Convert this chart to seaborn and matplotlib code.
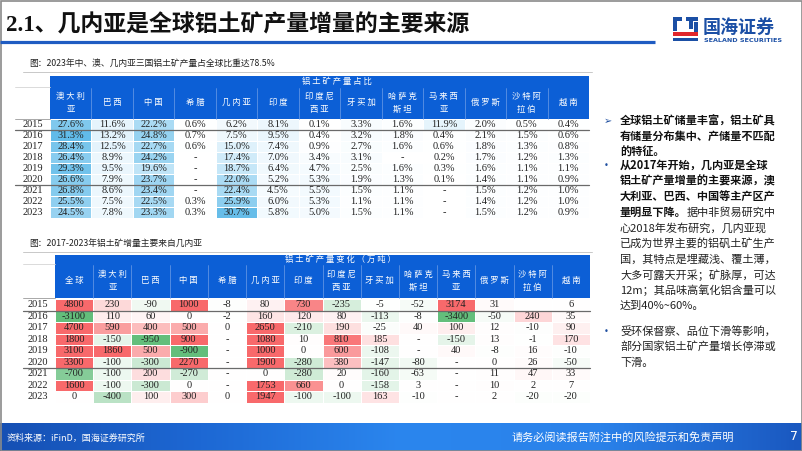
import numpy as np
import pandas as pd
import matplotlib
matplotlib.use("Agg")
import matplotlib.pyplot as plt
from matplotlib.colors import LinearSegmentedColormap
from matplotlib.patches import Rectangle
import seaborn as sns

sns.set_style("white")
plt.rcParams["font.family"] = ["Noto Sans CJK SC", "DejaVu Sans"]

# --- data: bauxite output share (%), None = "-" ---
years = ["2015", "2016", "2017", "2018", "2019", "2020", "2021", "2022", "2023"]
share_cols = ["澳大利\n亚", "巴西", "中国", "希腊", "几内亚", "印度", "印度尼\n西亚",
              "牙买加", "哈萨克\n斯坦", "马来西\n亚", "俄罗斯", "沙特阿\n拉伯", "越南"]
share_aus = [27.6, 31.3, 28.4, 26.4, 29.3, 26.6, 26.8, 25.5, 24.5]
share_bra = [11.6, 13.2, 12.5, 8.9, 9.5, 7.9, 8.6, 7.5, 7.8]
share_chn = [22.2, 24.8, 22.7, 24.2, 19.6, 23.7, 23.4, 22.5, 23.3]
share_grc = [0.6, 0.7, 0.6, None, None, None, None, 0.3, 0.3]
share_gin = [6.2, 7.5, 15.0, 17.4, 18.7, 22.0, 22.4, 25.9, 30.7]
share_ind = [8.1, 9.5, 7.4, 7.0, 6.4, 5.2, 4.5, 6.0, 5.8]
share_idn = [0.1, 0.4, 0.9, 3.4, 4.7, 5.3, 5.5, 5.3, 5.0]
share_jam = [3.3, 3.2, 2.7, 3.1, 2.5, 1.9, 1.5, 1.1, 1.5]
share_kaz = [1.6, 1.8, 1.6, None, 1.6, 1.3, 1.1, 1.1, 1.1]
share_mys = [11.9, 0.4, 0.6, 0.2, 0.3, 0.1, None, None, None]
share_rus = [2.0, 2.1, 1.8, 1.7, 1.6, 1.4, 1.5, 1.4, 1.5]
share_sau = [0.5, 1.5, 1.3, 1.2, 1.1, 1.1, 1.2, 1.2, 1.2]
share_vnm = [0.4, 0.6, 0.8, 1.3, 1.1, 0.9, 1.0, 1.0, 0.9]

# --- data: output change (10k t), None = "-", "" = blank ---
chg_cols = ["全球"] + share_cols
chg_world = [4800, -3100, 4700, 1800, 3100, 3300, -700, 1600, 0]
chg_aus = [230, 110, 590, -150, 1860, -100, -100, -100, -400]
chg_bra = [-90, 60, 400, -950, 500, -300, 200, -300, 100]
chg_chn = [1000, 0, 500, 900, -900, 2270, -270, 0, 300]
chg_grc = [-8, -2, 0, None, None, None, None, None, 0]
chg_gin = [80, 160, 2650, 1080, 1000, 1900, 0, 1753, 1947]
chg_ind = [730, 120, -210, 10, 0, -280, -280, 660, -100]
chg_idn = [-235, 80, 190, 810, 600, 380, 20, 0, -100]
chg_jam = [-5, -113, -25, 185, -108, -147, -160, -158, 163]
chg_kaz = [-52, -8, 40, None, None, -80, -63, 3, -10]
chg_mys = [3174, -3400, 100, -150, 40, None, None, None, None]
chg_rus = [31, -50, 12, 13, -8, 0, 11, 10, 2]
chg_sau = ["", 240, -10, -1, 16, 26, 47, 2, -20]
chg_vnm = [6, 35, 90, 170, -10, -50, 33, 7, -20]

share_data = [share_aus, share_bra, share_chn, share_grc, share_gin, share_ind, share_idn,
              share_jam, share_kaz, share_mys, share_rus, share_sau, share_vnm]
chg_data = [chg_world, chg_aus, chg_bra, chg_chn, chg_grc, chg_gin, chg_ind, chg_idn,
            chg_jam, chg_kaz, chg_mys, chg_rus, chg_sau, chg_vnm]


def num(v):
    return 0.0 if v is None or v == "" else float(v)


def share_txt(v):
    return "-" if v is None else f"{v:.1f}%"


def chg_txt(v):
    if v is None:
        return "-"
    return "" if v == "" else str(v)


share_num = pd.DataFrame({i: [num(v) for v in col] for i, col in enumerate(share_data)}, index=years)
share_lab = np.array([[share_txt(col[r]) for col in share_data] for r in range(len(years))])
chg_num = pd.DataFrame({i: [num(v) for v in col] for i, col in enumerate(chg_data)}, index=years)
chg_lab = np.array([[chg_txt(col[r]) for col in chg_data] for r in range(len(years))])

W, H = 802, 451
fig = plt.figure(figsize=(W / 100, H / 100), dpi=100)
fig.patch.set_facecolor("white")


def box(x0, y0, x1, y1):
    return [x0 / W, 1 - y1 / H, (x1 - x0) / W, (y1 - y0) / H]


header_blue = "#0c5fd6"
blue_cmap = LinearSegmentedColormap.from_list("bl", ["#ffffff", "#dcf0fb", "#5cb9e8"])
rg_cmap = LinearSegmentedColormap.from_list("rg", ["#63be7b", "#ffffff", "#f8696b"])
num_font = dict(fontsize=7.5, family="Liberation Serif", color="#222222")

# table geometry (pixels)
t1 = dict(left=50, right=589, band_top=76, band_bot=87, head_bot=118.5, top=119.5, bottom=218.2, year_left=15)
t2 = dict(left=55, right=590, band_top=254.5, band_bot=263.5, head_bot=298, top=299, bottom=402.5, year_left=23)

ax1 = fig.add_axes(box(t1["left"], t1["top"], t1["right"], t1["bottom"]))
sns.heatmap(share_num, ax=ax1, cmap=blue_cmap, vmin=0, vmax=32, cbar=False,
            annot=share_lab, fmt="", annot_kws=num_font,
            linewidths=0.6, linecolor="white", xticklabels=False, yticklabels=years)

ax2 = fig.add_axes(box(t2["left"], t2["top"], t2["right"], t2["bottom"]))
sns.heatmap(chg_num, ax=ax2, cmap=rg_cmap, vmin=-900, vmax=900, cbar=False,
            annot=chg_lab, fmt="", annot_kws=num_font,
            linewidths=0.6, linecolor="white", xticklabels=False, yticklabels=years)

for ax in (ax1, ax2):
    ax.set_yticklabels(years, rotation=0, fontsize=7.5, family="Liberation Serif", color="#222222")
    ax.tick_params(axis="y", length=0, pad=5)
    ax.set_xlabel("")
    ax.set_ylabel("")

# page overlay in pixel coordinates
page = fig.add_axes([0, 0, 1, 1], zorder=5)
page.axis("off")

# footer gradient
grad = np.linspace(0, 1, 400).reshape(1, -1)
foot_cmap = LinearSegmentedColormap.from_list("ft", ["#1650b4", "#1d68d4", "#2b86ee", "#2a82ea", "#1a58c0"])
page.imshow(grad, extent=(0, W, H, 423), cmap=foot_cmap, aspect="auto", zorder=0)
page.set_xlim(0, W)
page.set_ylim(H, 0)

# border
page.add_patch(Rectangle((0.5, 0.5), W - 1, H - 1, fill=False, ec="#8a8a8a", lw=1.2))

# title
page.text(6, 25, "2.1、几内亚是全球铝土矿产量增量的主要来源", fontsize=16.5, weight="bold",
          family=["Liberation Serif", "Noto Sans CJK SC"], color="#111111", va="center")
page.plot([0, 655], [42, 42], color="#1f5cc2", lw=2.3, solid_capstyle="butt")

# logo
logo_blue = "#1b4fa5"
page.add_patch(Rectangle((673, 17), 9, 4, color=logo_blue, lw=0))
page.add_patch(Rectangle((673, 17), 4, 14, color=logo_blue, lw=0))
page.add_patch(Rectangle((686, 17), 12, 4, color=logo_blue, lw=0))
page.add_patch(Rectangle((689, 17), 4, 12, color=logo_blue, lw=0))
page.add_patch(Rectangle((673, 32), 25, 4, color="#e0262b", lw=0))
page.add_patch(Rectangle((673, 38), 25, 3, color=logo_blue, lw=0))
page.add_patch(Rectangle((694, 22), 4, 10, color=logo_blue, lw=0))
page.text(703, 27, "国海证券", fontsize=13, color=logo_blue, va="center", weight="bold")
page.text(704, 41, "SEALAND SECURITIES", fontsize=4.6, color=logo_blue, va="center",
          weight="bold", family="DejaVu Sans")

# subtitles
page.text(29, 64, "图：2023年中、澳、几内亚三国铝土矿产量占全球比重达78.5%", fontsize=6.3,
          color="#222222", va="center")
page.plot([23, 592], [72, 72], color="#c8c8c8", lw=0.7)
page.text(29, 244, "图：2017-2023年铝土矿增量主要来自几内亚", fontsize=6.3,
          color="#222222", va="center")
page.plot([23, 592], [251.5, 251.5], color="#c8c8c8", lw=0.7)


def spaced(label):
    return "\n".join(" ".join(line) for line in label.split("\n"))


def draw_header(t, labels, band_text, band_x):
    left, right = t["left"], t["right"]
    w = (right - left) / len(labels)
    page.add_patch(Rectangle((left, t["band_top"]), right - left, t["head_bot"] - t["band_top"],
                             color=header_blue, lw=0))
    page.text(band_x, (t["band_top"] + t["band_bot"]) / 2, spaced(band_text), color="white",
              fontsize=6, ha="center", va="center")
    for i, lab in enumerate(labels):
        cx = left + (i + 0.5) * w
        page.text(cx, (t["band_bot"] + t["head_bot"]) / 2, spaced(lab), color="white",
                  fontsize=6, ha="center", va="center", linespacing=1.6)
        if i > 0:
            page.plot([left + i * w] * 2, [t["band_bot"] + 1, t["head_bot"]], color="#6f9de6", lw=0.5)
    # year column guide lines
    page.plot([t["year_left"], left], [t["band_bot"], t["band_bot"]], color="#d5d5d5", lw=0.6)
    page.plot([t["year_left"], left], [t["head_bot"], t["head_bot"]], color="#9a9a9a", lw=0.6)
    # row separators after 2015 and 2020
    rh = (t["bottom"] - t["top"]) / len(years)
    for k in (1, 6):
        y = t["top"] + k * rh
        page.plot([t["year_left"], right], [y, y], color="#6a6a6a", lw=0.9)


draw_header(t1, share_cols, "铝土矿产量占比", 337)
draw_header(t2, chg_cols, "铝土矿产量变化（万吨）", 340)

# right text panel
tx, bx, fs, lh = 620, 604, 8, 15.7
bullet_blue = "#1f4fa0"


def para(y0, lines, bold_n, marker):
    page.text(bx, y0, marker, fontsize=7 if marker == "➢" else 6, color=bullet_blue,
              va="center", family="DejaVu Sans")
    for i, line in enumerate(lines):
        y = y0 + i * lh
        if isinstance(line, tuple):
            t = page.text(tx, y, line[0], fontsize=fs, weight="bold", color="#111111", va="center")
            page.annotate(line[1], xy=(1, 0.5), xycoords=t, va="center", ha="left",
                          fontsize=fs, color="#222222")
        else:
            page.text(tx, y, line, fontsize=fs, va="center",
                      weight="bold" if i < bold_n else "normal",
                      color="#111111" if i < bold_n else "#222222")


para(121, ["全球铝土矿储量丰富，铝土矿具", "有储量分布集中、产储量不匹配", "的特征。"], 3, "➢")
para(165, ["从2017年开始，几内亚是全球", "铝土矿产量增量的主要来源，澳", "大利亚、巴西、中国等主产区产",
           ("量明显下降。", "据中非贸易研究中"), "心2018年发布研究，几内亚现",
           "已成为世界主要的铝矾土矿生产", "国，其特点是埋藏浅、覆土薄，", "大多可露天开采；矿脉厚，可达",
           "12m；其品味高氧化铝含量可以", "达到40%~60%。"], 3, "•")
para(331, ["受环保督察、品位下滑等影响，", "部分国家铝土矿产量增长停滞或", "下滑。"], 0, "•")

# footer text
page.text(7, 438, "资料来源：iFinD，国海证券研究所", fontsize=6.5, color="white", va="center")
page.text(512, 437, "请务必阅读报告附注中的风险提示和免责声明", fontsize=8, color="white", va="center")
page.text(790, 437, "7", fontsize=9, color="white", va="center", family="DejaVu Sans")

fig.savefig("out.png", dpi=100)
